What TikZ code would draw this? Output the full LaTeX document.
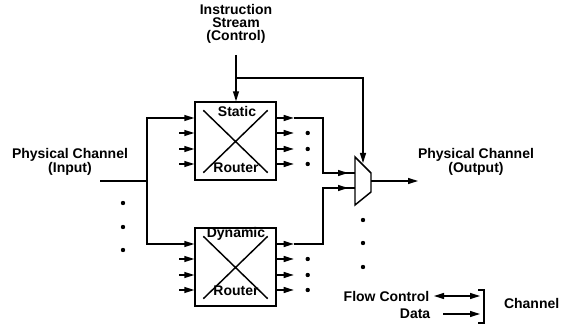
\documentclass[tikz,border=0pt]{standalone}
\usepackage{fontspec}
\setmainfont{Liberation Sans}
\usetikzlibrary{arrows.meta,positioning}

\tikzset{every picture/.style={line width=1.1pt}}
\tikzset{
  router/.style={draw, minimum width=60.75pt, minimum height=58.5pt, inner sep=0pt},
  lbl/.style={inner sep=0.75pt, font=\fontsize{10.5}{10}\selectfont\bfseries, align=center},
  tip/.style={-{Triangle[length=7.5pt,width=4.5pt]}},
  both/.style={{Triangle[length=7.5pt,width=4.5pt]}-{Triangle[length=7.5pt,width=4.5pt]}},
}

\begin{document}
\begin{tikzpicture}[x=0.75pt,y=0.75pt,yscale=-1,xscale=1]
\useasboundingbox (0,0) rectangle (561,324);

%Routers
\node[router] (st) at (235.5,141) {};
\node[router] (dy) at (235.5,267) {};
\draw ([shift={(9,9)}]st.north west) -- ([shift={(-9,-8)}]st.south east);
\draw ([shift={(-9,9)}]st.north east) -- ([shift={(9,-8)}]st.south west);
\draw ([shift={(9,9)}]dy.north west) -- ([shift={(-9,-8)}]dy.south east);
\draw ([shift={(-9,9)}]dy.north east) -- ([shift={(9,-8)}]dy.south west);

% Text Node
\node[lbl] (stname) at (237,111) {Static};
\node[lbl] (strt) at (236,168) {Router};
\node[lbl] (dyname) at (236,234) {Dynamic};
\node[lbl] (dyrt) at (236,291) {Router};

%Mux
\coordinate (m1) at (355,157);
\coordinate (m2) at (371,173);
\coordinate (m3) at (371,192);
\coordinate (m4) at (355,205);
\draw (m1) -- (m2) -- (m3) -- (m4) -- cycle;
\coordinate (mux in1) at (355,173);
\coordinate (mux in2) at (355,188);
\coordinate (mux out) at (371,181);
\coordinate (mux sel) at (363,163);

%Router ports
\foreach \o in {-23,-8,8,23} {
  \draw[tip] ([shift={(-15,\o)}]st.west) -- ([shift={(0,\o)}]st.west);
  \draw[tip] ([shift={(0,\o)}]st.east) -- ([shift={(17,\o)}]st.east);
  \draw[tip] ([shift={(-15,\o)}]dy.west) -- ([shift={(0,\o)}]dy.west);
  \draw[tip] ([shift={(0,\o)}]dy.east) -- ([shift={(17,\o)}]dy.east);
}
\foreach \o in {-8,8,23} {
  \fill ([shift={(31,\o)}]st.east) circle (2.2);
  \fill ([shift={(31,\o)}]dy.east) circle (2.2);
}

%Input channel
\node[lbl] (pin) at (70,162) {Physical Channel\\(Input)};
\coordinate (in) at (100,181);
\coordinate (split) at (147,181);
\draw (in) -- (split);
\draw (split) |- ([shift={(-15,-23)}]st.west);
\draw (split) |- ([shift={(-15,-23)}]dy.west);
\foreach \y in {203,227,250} {
  \fill (123,\y) circle (2.2);
}

%Router outputs to mux
\coordinate (bend1) at (323,173);
\coordinate (bend2) at (323,188);
\draw ([shift={(17,-23)}]st.east) -| (bend1) -- (mux in1);
\draw[tip] (bend1) -- ([shift={(-7,0)}]mux in1);
\draw ([shift={(17,-23)}]dy.east) -| (bend2) -- (mux in2);
\draw[tip] (bend2) -- ([shift={(-7,0)}]mux in2);

%Instruction stream
\node[lbl] (instr) at (236,24) {Instruction\\Stream\\(Control)};
\coordinate (isrc) at (236,55);
\coordinate (ibr) at (236,78);
\draw[tip] (isrc) -- (st.north -| isrc);
\draw[tip] (ibr) -| (mux sel);

%Output channel
\coordinate (pout) at (418,181);
\draw[tip] (mux out) -- (pout);
\node[lbl] (pon) at (476,162) {Physical Channel\\(Output)};
\foreach \y in {220,243,267} {
  \fill (363,\y) circle (2.2);
}

%Legend
\node[lbl, anchor=east] (fc) at (431,296) {Flow Control};
\node[lbl, anchor=east] (data) at (432,314) {Data};
\coordinate (fcend) at (480,296);
\coordinate (dend) at (480,314);
\draw[both] ([shift={(3,0)}]fc.east) -- (fcend);
\draw[tip] ([shift={(11,0)}]data.east) -- (dend);
\coordinate (brtop) at (484,290);
\coordinate (brbot) at (484,323);
\draw ([shift={(-6,0)}]brtop) -- (brtop) -- (brbot) -- ([shift={(-6,0)}]brbot);
\node[lbl, anchor=east, inner sep=0pt] (chan) at (560,303) {Channel};

\end{tikzpicture}
\end{document}
